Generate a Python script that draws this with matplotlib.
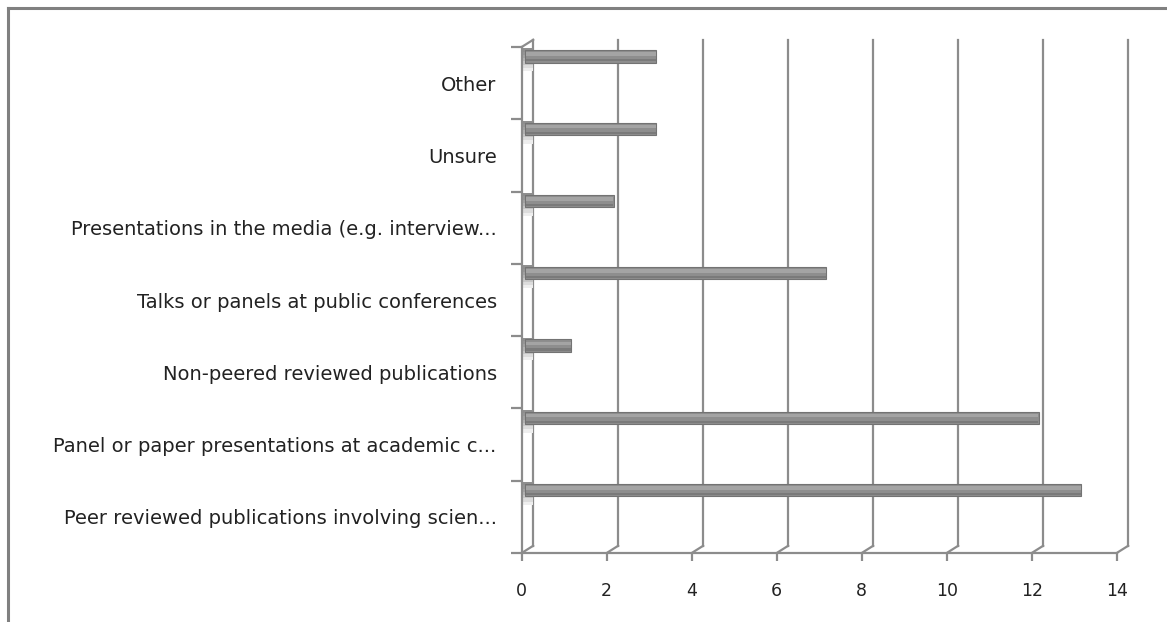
import matplotlib
matplotlib.use("Agg")
import matplotlib.pyplot as plt
from matplotlib.lines import Line2D

# data, bottom to top as drawn
categories = [
    "Peer reviewed publications involving scien...",
    "Panel or paper presentations at academic c...",
    "Non-peered reviewed publications",
    "Talks or panels at public conferences",
    "Presentations in the media (e.g. interview...",
    "Unsure",
    "Other",
]
values = [13, 12, 1, 7, 2, 3, 3]
xticks = [0, 2, 4, 6, 8, 10, 12, 14]

plt.rcParams['font.family'] = ['DejaVu Sans']

fig = plt.figure(figsize=(11.67, 6.22), dpi=100)
ax = fig.add_axes([521.7 / 1167, 69 / 622, 595 / 1167, 506 / 622])
ax.set_xlim(0, 14)
ax.set_ylim(0, 7)

grid_c = '#8c8c8c'
dx, dy = 0.27, 0.1   # depth offset of the back wall, in data units

# back wall grid lines + floor diagonals
for v in xticks:
    ax.plot([v + dx, v + dx], [dy, 7 + dy], color=grid_c, lw=1.6, clip_on=False, zorder=1)
    ax.plot([v, v + dx], [0, dy], color=grid_c, lw=1.6, clip_on=False, zorder=1)
ax.plot([0, dx], [7, 7 + dy], color=grid_c, lw=1.6, clip_on=False, zorder=1)

# shading on the side wall under each bar
n = len(categories)
shade = ['#8f8f8f', '#979797', '#a3a3a3', '#b4b4b4', '#c8c8c8', '#dcdcdc', '#eeeeee']
for i in range(n):
    for k, c in enumerate(shade):
        top = i + 0.98 - k * 0.045
        ax.fill_between([0.01, dx - 0.01], top - 0.045, top, color=c,
                        lw=0, clip_on=False, zorder=1.5)

# bars (cylinder look: dark body, lighter upper strip)
ypos = [i + 0.87 for i in range(n)]
widths = [v + 0.09 for v in values]
ax.barh(ypos, widths, left=0.08, height=0.17, color='#8e8e8e', edgecolor='#737373',
        lw=0.8, zorder=3, clip_on=False)
ax.barh([y + 0.03 for y in ypos], [w - 0.04 for w in widths], left=0.1, height=0.05,
        color='#a4a4a4', lw=0, zorder=4, clip_on=False)
ax.barh([y - 0.055 for y in ypos], [w - 0.04 for w in widths], left=0.1, height=0.03,
        color='#7a7a7a', lw=0, zorder=4, clip_on=False)

# spines / ticks
for s in ['top', 'right']:
    ax.spines[s].set_visible(False)
for s in ['left', 'bottom']:
    ax.spines[s].set_color(grid_c)
    ax.spines[s].set_linewidth(1.6)
    ax.spines[s].set_zorder(2)

ax.set_xticks(xticks)
ax.set_xticklabels([str(v) for v in xticks])
ax.tick_params(axis='x', direction='out', length=6, width=1.6, color=grid_c,
               pad=15, labelsize=12.5, labelcolor='#222222')

ax.set_yticks(range(n + 1))
ax.set_yticklabels([])
ax.tick_params(axis='y', which='major', direction='out', length=8, width=1.6, color=grid_c)
ax.set_yticks([i + 0.5 for i in range(n)], minor=True)
ax.set_yticklabels(categories, minor=True)
ax.tick_params(axis='y', which='minor', length=0, pad=18, labelsize=14,
               labelcolor='#222222')

# chart area border (top and left only visible)
fig.add_artist(Line2D([8 / 1167, 1], [1 - 8 / 622, 1 - 8 / 622], color='#808080', lw=2.2))
fig.add_artist(Line2D([8 / 1167, 8 / 1167], [0, 1 - 8 / 622], color='#808080', lw=2.2))

fig.savefig('out.png', dpi=100)
